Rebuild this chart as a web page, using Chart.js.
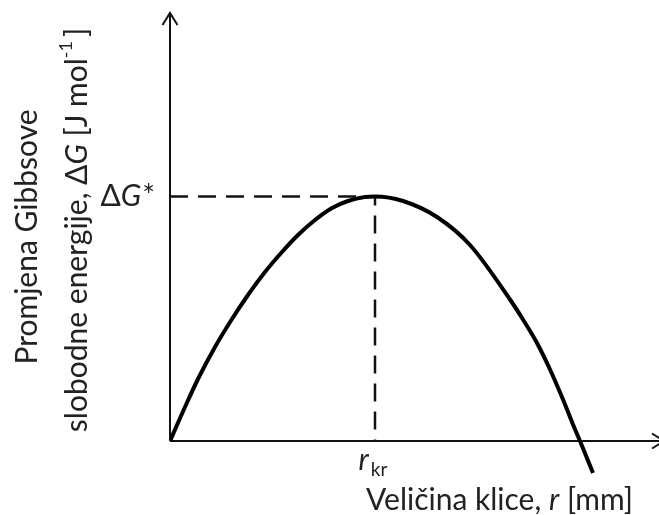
<!DOCTYPE html>
<html>
<head>
<meta charset="utf-8">
<script src="https://cdn.jsdelivr.net/npm/chart.js@4.4.1/dist/chart.umd.min.js"></script>
<style>
  html, body { margin: 0; padding: 0; background: #fff; }
  #wrap { width: 659px; height: 515px; }
</style>
</head>
<body>
<div id="wrap"><canvas id="gibbs" width="659" height="515"></canvas></div>
<script>
// --------------------------------------
// Data (arbitrary units)
// --------------------------------------
const rVals  = [0, 15, 28, 45, 62, 78, 95, 112, 128, 145, 162, 178, 195, 205, 233, 267, 300, 340, 353, 367, 380, 393, 403, 410, 423];
const dGVals = [0, 34, 62, 94, 122, 146, 169, 189, 206, 221, 233, 240, 244, 244.5, 240, 224, 196, 141.5, 121.5, 98, 71.5, 41.5, 16.5, 0, -32];

const rKr = 205;        // critical radius
const dGStar = 244.5;   // barrier height

const xRange = [0, 489];
const yRange = [-40, 428];
const xArrowEnd = 494;  // arrow tip goes a bit past the right edge

const TEXT = '#222';
const FONT = 'Lato, "Open Sans", sans-serif';

// --------------------------------------
// Helpers
// --------------------------------------
function font(size, italic) {
  return (italic ? 'italic ' : '') + size + 'px ' + FONT;
}

// draw a list of text runs one after another
function drawRuns(ctx, runs, x, y, align) {
  let total = 0;
  runs.forEach(r => { ctx.font = r.font; total += ctx.measureText(r.text).width + (r.gap || 0); });
  let cx = x;
  if (align === 'center') cx = x - total / 2;
  if (align === 'right') cx = x - total;
  ctx.textAlign = 'left';
  ctx.textBaseline = 'alphabetic';
  runs.forEach(r => {
    ctx.font = r.font;
    ctx.fillText(r.text, cx, y + (r.dy || 0));
    cx += ctx.measureText(r.text).width + (r.gap || 0);
  });
  return total;
}

function arrowHead(ctx, tx, ty, dir) {
  // open chevron, dir: 'up' or 'right'
  ctx.beginPath();
  if (dir === 'up') {
    ctx.moveTo(tx - 7.5, ty + 12); ctx.lineTo(tx, ty); ctx.lineTo(tx + 7.5, ty + 12);
  } else {
    ctx.moveTo(tx - 12, ty - 7.5); ctx.lineTo(tx, ty); ctx.lineTo(tx - 12, ty + 7.5);
  }
  ctx.stroke();
}

// --------------------------------------
// Axes + labels plugin
// --------------------------------------
const axesPlugin = {
  id: 'axesPlugin',
  beforeDatasetsDraw(chart) {
    const ctx = chart.ctx;
    const xs = chart.scales.x, ys = chart.scales.y;
    const x0 = xs.getPixelForValue(0), y0 = ys.getPixelForValue(0);
    const yTop = ys.getPixelForValue(yRange[1]);
    const xEnd = xs.getPixelForValue(xArrowEnd);
    ctx.save();
    ctx.strokeStyle = '#111';
    ctx.lineWidth = 2;
    ctx.beginPath();
    ctx.moveTo(x0, y0); ctx.lineTo(x0, yTop);
    ctx.moveTo(x0, y0); ctx.lineTo(xEnd, y0);
    ctx.stroke();
    arrowHead(ctx, x0, yTop, 'up');
    arrowHead(ctx, xEnd, y0, 'right');
    ctx.restore();
  },
  afterDraw(chart) {
    const ctx = chart.ctx;
    const xs = chart.scales.x, ys = chart.scales.y;
    const x0 = xs.getPixelForValue(0), y0 = ys.getPixelForValue(0);
    ctx.save();
    ctx.fillStyle = TEXT;

    // ΔG* next to the dashed level
    const yStar = ys.getPixelForValue(dGStar);
    drawRuns(ctx, [
      { text: 'Δ', font: font(30) },
      { text: 'G', font: font(30, true), gap: 1 },
      { text: '*', font: font(30) }
    ], x0 - 15, yStar + 9, 'right');

    // r_kr under the axis
    const xKr = xs.getPixelForValue(rKr);
    drawRuns(ctx, [
      { text: 'r', font: font(30, true), gap: 2 },
      { text: 'kr', font: font(19), dy: 6 }
    ], xKr - 2, y0 + 29, 'center');

    // x axis title
    drawRuns(ctx, [
      { text: 'Veličina klice, ', font: font(30) },
      { text: 'r', font: font(30, true) },
      { text: ' [mm]', font: font(30) }
    ], 366, 510, 'left');

    // y axis title (two rotated lines)
    ctx.save();
    ctx.translate(37, 237);
    ctx.rotate(-Math.PI / 2);
    drawRuns(ctx, [{ text: 'Promjena Gibbsove', font: font(30) }], 0, 0, 'center');
    ctx.restore();

    ctx.save();
    ctx.translate(87, 230);
    ctx.rotate(-Math.PI / 2);
    drawRuns(ctx, [
      { text: 'slobodne energije, Δ', font: font(30) },
      { text: 'G', font: font(30, true) },
      { text: ' [J mol', font: font(30) },
      { text: '-1', font: font(18), dy: -15, gap: 4 },
      { text: ']', font: font(30) }
    ], 0, 0, 'center');
    ctx.restore();

    ctx.restore();
  }
};

// --------------------------------------
// Chart
// --------------------------------------
const curvePoints = rVals.map((r, i) => ({ x: r, y: dGVals[i] }));
const guidePoints = [
  { x: 0, y: dGStar },
  { x: rKr, y: dGStar },
  { x: rKr, y: 0 }
];

new Chart(document.getElementById('gibbs').getContext('2d'), {
  type: 'scatter',
  data: {
    datasets: [
      {
        label: 'ΔG',
        data: curvePoints,
        showLine: true,
        borderColor: '#000',
        borderWidth: 4,
        pointRadius: 0,
        cubicInterpolationMode: 'monotone',
        fill: false
      },
      {
        label: 'guide',
        data: guidePoints,
        showLine: true,
        borderColor: '#111',
        borderWidth: 2.5,
        borderDash: [18, 10],
        pointRadius: 0,
        tension: 0,
        fill: false
      }
    ]
  },
  options: {
    responsive: false,
    animation: false,
    layout: { padding: { left: 170, right: 0, top: 13, bottom: 34 } },
    plugins: { legend: { display: false }, tooltip: { enabled: false } },
    scales: {
      x: { type: 'linear', display: false, min: xRange[0], max: xRange[1] },
      y: { type: 'linear', display: false, min: yRange[0], max: yRange[1] }
    }
  },
  plugins: [axesPlugin]
});
</script>
</body>
</html>
